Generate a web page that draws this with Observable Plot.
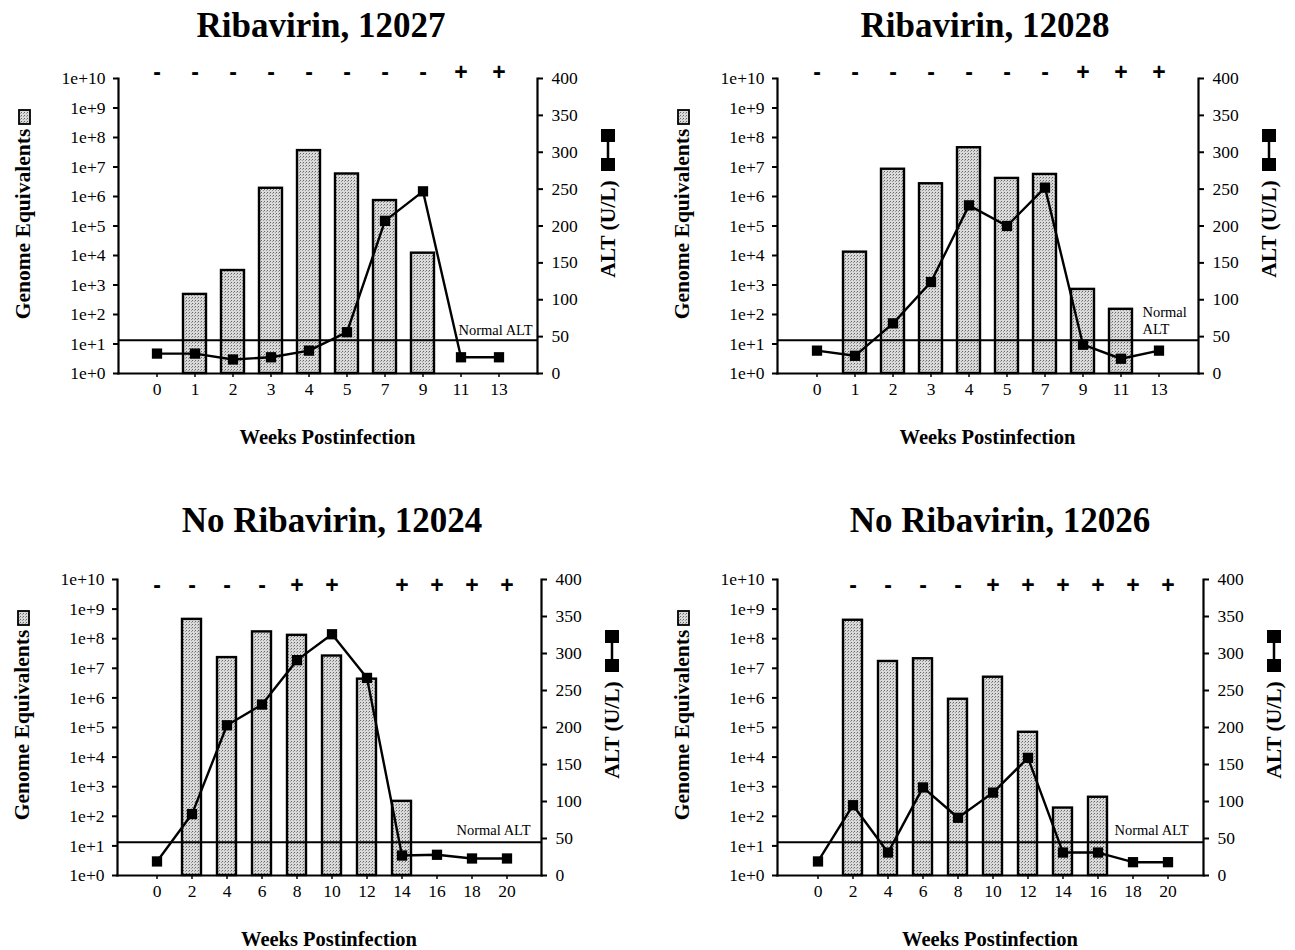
<!DOCTYPE html>
<html>
<head>
<meta charset="utf-8">
<script src="https://cdn.jsdelivr.net/npm/d3@7"></script>
<script src="https://cdn.jsdelivr.net/npm/@observablehq/plot@0.6"></script>
<style>
  html, body { margin: 0; padding: 0; background: #fff; }
  body { position: relative; width: 1295px; height: 950px; overflow: hidden; color: #000;
         font-family: "Liberation Serif", "Times New Roman", Times, serif; }
  .box { position: absolute; }
  .title { position: absolute; font-weight: bold; font-size: 35px; line-height: 1; white-space: nowrap; transform: translateX(-50%); }
  .xlab { position: absolute; font-weight: bold; font-size: 20.5px; line-height: 1; white-space: nowrap; transform: translate(-50%, -50%); }
  .vlab { position: absolute; font-weight: bold; font-size: 21.5px; line-height: 1; white-space: nowrap; transform: translate(-50%, -50%) rotate(-90deg); }
  .icon { position: absolute; }
</style>
</head>
<body>
<svg width="0" height="0" style="position:absolute">
  <defs>
    <pattern id="stip" width="3" height="3" patternUnits="userSpaceOnUse">
      <rect width="3" height="3" fill="#dadada"></rect>
      <rect x="0" y="0" width="1" height="1" fill="#666"></rect>
      <rect x="2" y="1" width="1" height="1" fill="#9a9a9a"></rect>
    </pattern>
  </defs>
</svg>
<script>
// ---------------- DATA ----------------
// Ribavirin, 12027
const weeks12027 = [0, 1, 2, 3, 4, 5, 7, 9, 11, 13];
const genome12027 = [null, 480, 3100, 1.9e6, 3.6e7, 5.8e6, 7.3e5, 1.2e4, null, null];
const alt12027 = [27, 27, 19, 22, 31, 56, 207, 247, 22, 22];
const pcr12027 = ["-", "-", "-", "-", "-", "-", "-", "-", "+", "+"];

// Ribavirin, 12028
const weeks12028 = [0, 1, 2, 3, 4, 5, 7, 9, 11, 13];
const genome12028 = [null, 1.3e4, 8.4e6, 2.7e6, 4.5e7, 4.1e6, 5.6e6, 710, 150, null];
const alt12028 = [31, 24, 68, 124, 228, 200, 252, 39, 20, 31];
const pcr12028 = ["-", "-", "-", "-", "-", "-", "-", "+", "+", "+"];

// No Ribavirin, 12024
const weeks12024 = [0, 2, 4, 6, 8, 10, 12, 14, 16, 18, 20];
const genome12024 = [null, 4.5e8, 2.3e7, 1.7e8, 1.3e8, 2.6e7, 4.3e6, 320, null, null, null];
const alt12024 = [19, 83, 203, 231, 291, 326, 267, 27, 28, 23, 23];
const pcr12024 = ["-", "-", "-", "-", "+", "+", "", "+", "+", "+", "+"];

// No Ribavirin, 12026
const weeks12026 = [0, 2, 4, 6, 8, 10, 12, 14, 16, 18, 20];
const genome12026 = [null, 4.2e8, 1.7e7, 2.1e7, 9e5, 5e6, 6.9e4, 190, 440, null, null];
const alt12026 = [19, 95, 31, 119, 78, 112, 159, 31, 31, 18, 18];
const pcr12026 = ["", "-", "-", "-", "-", "+", "+", "+", "+", "+", "+"];

const normalALT = 45;
const genomeTicks = [1, 10, 100, 1e3, 1e4, 1e5, 1e6, 1e7, 1e8, 1e9, 1e10];
const altTicks = [0, 50, 100, 150, 200, 250, 300, 350, 400];

const titles = ["Ribavirin, 12027", "Ribavirin, 12028", "No Ribavirin, 12024", "No Ribavirin, 12026"];
const xTitle = "Weeks Postinfection";
const yTitleLeft = "Genome Equivalents";
const yTitleRight = "ALT (U/L)";

// ---------------- LAYOUT ----------------
const FONT = '"Liberation Serif", "Times New Roman", Times, serif';
const SIGNFONT = '"Liberation Sans", Arial, sans-serif';
const TICKSIZE = 17.5;
const W = 645, H = 470;
const panels = [
  {title: titles[0], weeks: weeks12027, genome: genome12027, alt: alt12027, pcr: pcr12027,
   ox: 0, oy: 0, L: 118, R: 537, T: 78, B: 373, pi: 0.4, po: 0.64, align: 0.5, signDy: -15,
   normal: {text: "Normal ALT", anchor: "end", dx: -5, dy: -5}, titleX: 321, titleTop: 8},
  {title: titles[1], weeks: weeks12028, genome: genome12028, alt: alt12028, pcr: pcr12028,
   ox: 650, oy: 0, L: 777, R: 1198, T: 78, B: 373, pi: 0.4, po: 0.69, align: 0.5, signDy: -15,
   normal: {text: "Normal\nALT", anchor: "start", dx: -56, dy: -6}, titleX: 985, titleTop: 8},
  {title: titles[2], weeks: weeks12024, genome: genome12024, alt: alt12024, pcr: pcr12024,
   ox: 0, oy: 480, L: 117, R: 541, T: 579, B: 875, pi: 0.45, po: 0.713, align: 0.54, signDy: -3,
   normal: {text: "Normal ALT", anchor: "end", dx: -11, dy: -7}, titleX: 332, titleTop: 503},
  {title: titles[3], weeks: weeks12026, genome: genome12026, alt: alt12026, pcr: pcr12026,
   ox: 650, oy: 480, L: 777, R: 1203, T: 579, B: 875, pi: 0.45, po: 0.776, align: 0.54, signDy: -3,
   normal: {text: "Normal ALT", anchor: "end", dx: -15, dy: -7}, titleX: 1000, titleTop: 503}
];

function addEl(cls, text, left, top) {
  const d = document.createElement("div");
  d.className = cls;
  d.textContent = text;
  d.style.left = left + "px";
  d.style.top = top + "px";
  document.body.appendChild(d);
  return d;
}

function addIcon(svgMarkup, left, top, w, h) {
  const d = document.createElement("div");
  d.className = "icon";
  d.style.left = left + "px";
  d.style.top = top + "px";
  d.innerHTML = `<svg width="${w}" height="${h}" viewBox="0 0 ${w} ${h}">${svgMarkup}</svg>`;
  document.body.appendChild(d);
}

for (const p of panels) {
  const margins = {
    marginLeft: p.L - p.ox, marginRight: p.ox + W - p.R,
    marginTop: p.T - p.oy, marginBottom: p.oy + H - p.B
  };
  const xScale = {type: "band", domain: p.weeks, paddingInner: p.pi, paddingOuter: p.po, align: p.align, axis: null};
  const bars = p.weeks.map((w, i) => ({week: w, ge: p.genome[i]})).filter(d => d.ge != null);
  const altData = p.weeks.map((w, i) => ({week: w, alt: p.alt[i]}));
  const signs = p.weeks.map((w, i) => ({week: w, s: p.pcr[i]})).filter(d => d.s);
  const style = {background: "transparent", fontFamily: FONT, fontSize: TICKSIZE + "px", color: "#000", overflow: "visible"};

  const genomePlot = Plot.plot({
    width: W, height: H, ...margins, style,
    x: xScale,
    y: {type: "log", domain: [1, 1e10], axis: null, label: null},
    marks: [
      Plot.barY(bars, {x: "week", y1: 1, y2: "ge", fill: "url(#stip)", stroke: "#000", strokeWidth: 2.4}),
      Plot.axisY({anchor: "left", ticks: genomeTicks, label: null,
        tickFormat: d => "1e+" + Math.round(Math.log10(d)), tickSize: 5, tickPadding: 8,
        strokeWidth: 2, fontSize: TICKSIZE}),
      Plot.axisX({ticks: p.weeks, label: null, tickSize: 4, tickPadding: 5, strokeWidth: 1.5, fontSize: TICKSIZE}),
      Plot.frame({anchor: "left", strokeWidth: 2.2}),
      Plot.frame({anchor: "bottom", strokeWidth: 2.2}),
      Plot.text(signs, {x: "week", text: "s", frameAnchor: "top", dy: p.signDy, fontWeight: "bold",
        fontSize: 23, fontFamily: SIGNFONT, fill: "#000"})
    ]
  });

  const altPlot = Plot.plot({
    width: W, height: H, ...margins, style,
    x: xScale,
    y: {domain: [0, 400], axis: null, label: null},
    marks: [
      Plot.ruleY([normalALT], {stroke: "#000", strokeWidth: 2}),
      Plot.text([{v: normalALT, t: p.normal.text}], {y: "v", text: "t", frameAnchor: "right",
        textAnchor: p.normal.anchor, lineAnchor: "bottom", dx: p.normal.dx, dy: p.normal.dy,
        fontSize: 14.5, lineHeight: 1.2}),
      Plot.line(altData, {x: "week", y: "alt", stroke: "#000", strokeWidth: 2.4}),
      Plot.dot(altData, {x: "week", y: "alt", symbol: "square", r: 5.8, fill: "#000", stroke: "none"}),
      Plot.axisY({anchor: "right", ticks: altTicks, label: null, tickSize: 5, tickPadding: 9,
        strokeWidth: 2, fontSize: TICKSIZE}),
      Plot.frame({anchor: "right", strokeWidth: 2.2})
    ]
  });

  for (const svg of [genomePlot, altPlot]) {
    const holder = document.createElement("div");
    holder.className = "box";
    holder.style.left = p.ox + "px";
    holder.style.top = p.oy + "px";
    holder.style.width = W + "px";
    holder.style.height = H + "px";
    holder.appendChild(svg);
    document.body.appendChild(holder);
  }

  // Titles and axis titles
  addEl("title", p.title, p.titleX, p.titleTop);
  addEl("xlab", xTitle, (p.L + p.R) / 2, p.B + 64);
  addEl("vlab", yTitleLeft, p.L - 94, p.T + 146);
  addEl("vlab", yTitleRight, p.R + 72, p.T + 151);

  // Legend icons
  addIcon('<rect x="1" y="1" width="11" height="14" fill="url(#stip)" stroke="#000" stroke-width="1.8"></rect>',
          p.L - 100, p.T + 31, 13, 16);
  addIcon('<line x1="7" y1="8" x2="7" y2="36" stroke="#000" stroke-width="2.5"></line>' +
          '<rect x="0" y="0" width="14" height="13" fill="#000"></rect>' +
          '<rect x="0" y="29" width="14" height="13" fill="#000"></rect>',
          p.R + 64, p.T + 51, 14, 42);
}
</script>
</body>
</html>
